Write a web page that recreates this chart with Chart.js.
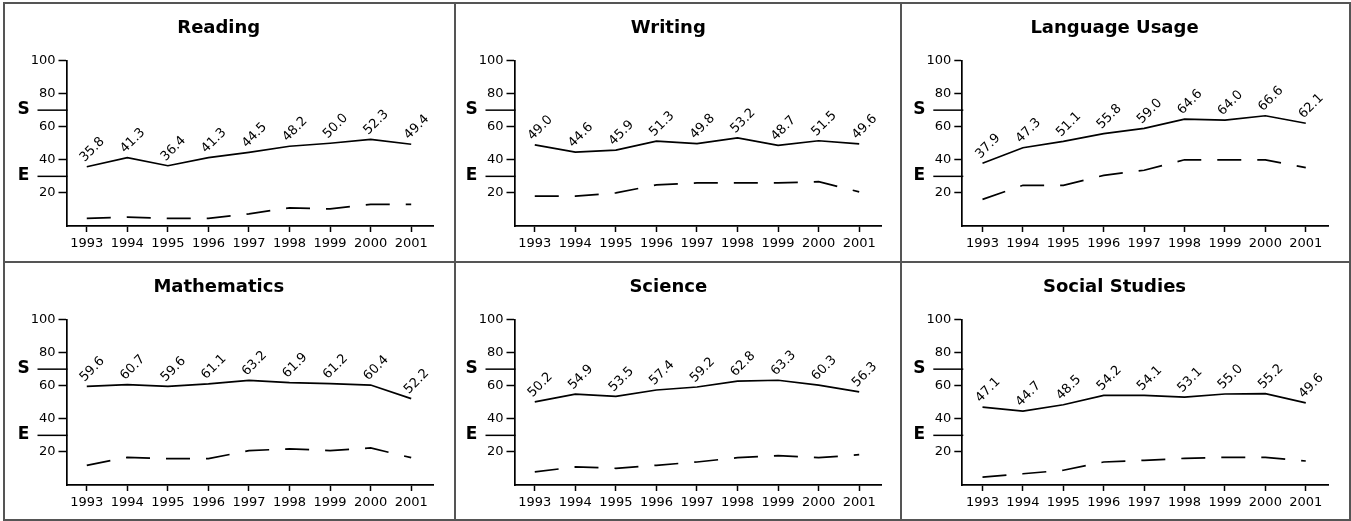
<!DOCTYPE html>
<html>
<head>
<meta charset="utf-8">
<script src="https://cdn.jsdelivr.net/npm/chart.js@4.4.1/dist/chart.umd.min.js"></script>
<style>
  body { margin: 0; background: #fff; width: 1351px; height: 521px; overflow: hidden; position: relative; }
  canvas { position: absolute; }
  .rule { position: absolute; background: #555; }
</style>
</head>
<body>
<script>
// values (solid = upper line with labels, dashed = lower line)
const years = [1993, 1994, 1995, 1996, 1997, 1998, 1999, 2000, 2001];
const titles = ['Reading', 'Writing', 'Language Usage', 'Mathematics', 'Science', 'Social Studies'];

const reading      = [35.8, 41.3, 36.4, 41.3, 44.5, 48.2, 50.0, 52.3, 49.4];
const readingLow   = [4.6, 5.4, 4.6, 4.6, 7.3, 11.0, 10.3, 13.1, 13.1];
const writing      = [49.0, 44.6, 45.9, 51.3, 49.8, 53.2, 48.7, 51.5, 49.6];
const writingLow   = [18.0, 18.0, 20.0, 24.8, 26.0, 26.0, 26.0, 26.8, 20.6];
const language     = [37.9, 47.3, 51.1, 55.8, 59.0, 64.6, 64.0, 66.6, 62.1];
const languageLow  = [16.1, 24.6, 24.6, 30.6, 33.7, 40.0, 40.0, 40.0, 35.3];
const math         = [59.6, 60.7, 59.6, 61.1, 63.2, 61.9, 61.2, 60.4, 52.2];
const mathLow      = [11.9, 16.7, 15.9, 15.9, 20.8, 21.8, 20.8, 22.4, 16.5];
const science      = [50.2, 54.9, 53.5, 57.4, 59.2, 62.8, 63.3, 60.3, 56.3];
const scienceLow   = [7.9, 10.9, 10.1, 11.9, 13.9, 16.5, 17.7, 16.5, 18.3];
const social       = [47.1, 44.7, 48.5, 54.2, 54.1, 53.1, 55.0, 55.2, 49.6];
const socialLow    = [4.8, 6.8, 8.9, 13.9, 14.9, 16.1, 16.7, 16.7, 14.5];

const solidSeries  = [reading, writing, language, math, science, social];
const dashedSeries = [readingLow, writingLow, languageLow, mathLow, scienceLow, socialLow];

const yTicks = [20, 40, 60, 80, 100];
const bandLabels = ['S', 'E'];
const bandValues = [70, 30];

// panel grid (border line positions) and plot insets
const colX = [4, 454.5, 901, 1349.5];
const rowY = [3, 261.5, 520];
const insetLeft = [62.5, 59.5, 61.3];
const insetRight = [21.5, 20.5, 22];
const plotTop = 57.5;
const plotHeight = 165.5;
const FONT = 'DejaVu Sans';

const valueLabels = {
  id: 'valueLabels',
  afterDatasetsDraw(chart) {
    const ctx = chart.ctx;
    const meta = chart.getDatasetMeta(0);
    const pts = chart.data.datasets[0].data;
    ctx.save();
    ctx.font = '13px "' + FONT + '"';
    ctx.fillStyle = '#000';
    ctx.textAlign = 'center';
    ctx.textBaseline = 'middle';
    meta.data.forEach((el, i) => {
      ctx.save();
      ctx.translate(el.x + 5.5, el.y - 17);
      ctx.rotate(-Math.PI / 4);
      ctx.fillText(pts[i].y.toFixed(1), 0, 0);
      ctx.restore();
    });
    ctx.restore();
  }
};

const bandMarks = {
  id: 'bandMarks',
  afterDraw(chart) {
    const { ctx, chartArea, scales } = chart;
    ctx.save();
    ctx.strokeStyle = '#000';
    ctx.lineWidth = 1.5;
    ctx.fillStyle = '#000';
    ctx.font = 'bold 17px "' + FONT + '"';
    ctx.textAlign = 'center';
    ctx.textBaseline = 'middle';
    bandLabels.forEach((lab, i) => {
      const y = scales.y.getPixelForValue(bandValues[i]);
      ctx.beginPath();
      ctx.moveTo(chartArea.left - 29, y);
      ctx.lineTo(chartArea.left + 1, y);
      ctx.stroke();
      ctx.fillText(lab, chartArea.left - 43, y - 1);
    });
    ctx.restore();
  }
};

function addRule(x, y, w, h) {
  const d = document.createElement('div');
  d.className = 'rule';
  d.style.left = x + 'px';
  d.style.top = y + 'px';
  d.style.width = w + 'px';
  d.style.height = h + 'px';
  document.body.appendChild(d);
}

titles.forEach((title, p) => {
  const col = p % 3, row = Math.floor(p / 3);
  const left = colX[col], top = rowY[row];
  const w = Math.round(colX[col + 1] - left), h = Math.round(rowY[row + 1] - top);
  const canvas = document.createElement('canvas');
  canvas.width = w;
  canvas.height = h;
  canvas.style.left = left + 'px';
  canvas.style.top = top + 'px';
  document.body.appendChild(canvas);

  const bottomSpace = h - plotTop - plotHeight;
  const lineStyle = { borderColor: '#000', borderWidth: 1.7, pointRadius: 0, tension: 0, fill: false };

  new Chart(canvas.getContext('2d'), {
    type: 'line',
    data: {
      datasets: [
        Object.assign({ data: years.map((yr, i) => ({ x: yr, y: solidSeries[p][i] })) }, lineStyle),
        Object.assign({ data: years.map((yr, i) => ({ x: yr, y: dashedSeries[p][i] })), borderDash: [24, 16] }, lineStyle)
      ]
    },
    options: {
      responsive: false,
      animation: false,
      devicePixelRatio: 1,
      layout: { padding: { left: 0, right: insetRight[col], top: 0, bottom: 0 } },
      plugins: {
        legend: { display: false },
        tooltip: { enabled: false },
        title: {
          display: true,
          text: title,
          color: '#000',
          font: { family: FONT, size: 18, weight: 'bold' },
          padding: { top: 14.2, bottom: 21.7 }
        }
      },
      scales: {
        x: {
          type: 'linear',
          bounds: 'data',
          min: 1992.5,
          max: 2001.55,
          afterFit: s => { s.height = bottomSpace; },
          afterBuildTicks: s => { s.ticks = years.map(v => ({ value: v })); },
          ticks: {
            autoSkip: false,
            maxRotation: 0,
            color: '#000',
            padding: 4,
            font: { family: FONT, size: 13 },
            callback: v => String(v)
          },
          grid: { drawOnChartArea: false, tickLength: 6, tickWidth: 1.5, tickColor: '#000' },
          border: { color: '#000', width: 1.7 }
        },
        y: {
          min: 0,
          max: 100,
          afterFit: s => { s.width = insetLeft[col]; },
          afterBuildTicks: s => { s.ticks = yTicks.map(v => ({ value: v })); },
          ticks: {
            color: '#000',
            padding: 3,
            font: { family: FONT, size: 13 }
          },
          grid: { drawOnChartArea: false, tickLength: 8, tickWidth: 1.5, tickColor: '#000' },
          border: { color: '#000', width: 1.7 }
        }
      }
    },
    plugins: [valueLabels, bandMarks]
  });
});

// panel frame lines
colX.forEach(x => addRule(x - 1, rowY[0] - 1, 2, rowY[2] - rowY[0] + 2));
rowY.forEach(y => addRule(colX[0] - 1, y - 1, colX[3] - colX[0] + 2, 2));
</script>
</body>
</html>
